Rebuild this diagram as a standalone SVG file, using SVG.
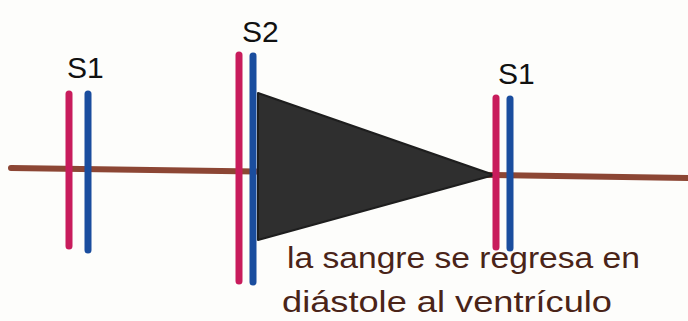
<svg xmlns="http://www.w3.org/2000/svg" width="688" height="321" viewBox="0 0 688 321">
<style>
.pk{stroke:#c81c5c;stroke-width:7;stroke-linecap:round;fill:none}
.bl{stroke:#1a4d9e;stroke-width:7;stroke-linecap:round;fill:none}
.lbl{font-family:"Liberation Sans",Arial,sans-serif;font-size:30px;fill:#111}
.note{font-family:"Liberation Sans",Arial,sans-serif;font-size:30px;fill:#4a2418}
</style>
<rect width="688" height="321" fill="#fdfdfb"/>
<g id="axis">
<path d="M11 168 L688 178" stroke="#8c4634" stroke-width="6" stroke-linecap="round" fill="none"/>
</g>
<g id="s1-left">
<line class="pk" x1="69" y1="94" x2="69" y2="246"/>
<line class="bl" x1="88" y1="94" x2="88" y2="250"/>
<text class="lbl" x="67" y="78">S1</text>
</g>
<g id="s2">
<line class="pk" x1="239" y1="55" x2="239" y2="281"/>
<line class="bl" x1="253" y1="56" x2="253" y2="282"/>
<text class="lbl" x="242" y="42">S2</text>
</g>
<g id="regurgitation">
<polygon points="258,93 258,240 494,175" fill="#2f2f2f" stroke="#1e1e1e" stroke-width="2" stroke-linejoin="round"/>
</g>
<g id="s1-right">
<line class="pk" x1="496" y1="98" x2="496" y2="247"/>
<line class="bl" x1="510" y1="99" x2="510" y2="248"/>
<text class="lbl" x="498" y="84">S1</text>
</g>
<g id="note">
<text class="note" x="287" y="268" textLength="353" lengthAdjust="spacingAndGlyphs">la sangre se regresa en</text>
<text class="note" x="282" y="312" textLength="330" lengthAdjust="spacingAndGlyphs">diástole al ventrículo</text>
</g>
</svg>
